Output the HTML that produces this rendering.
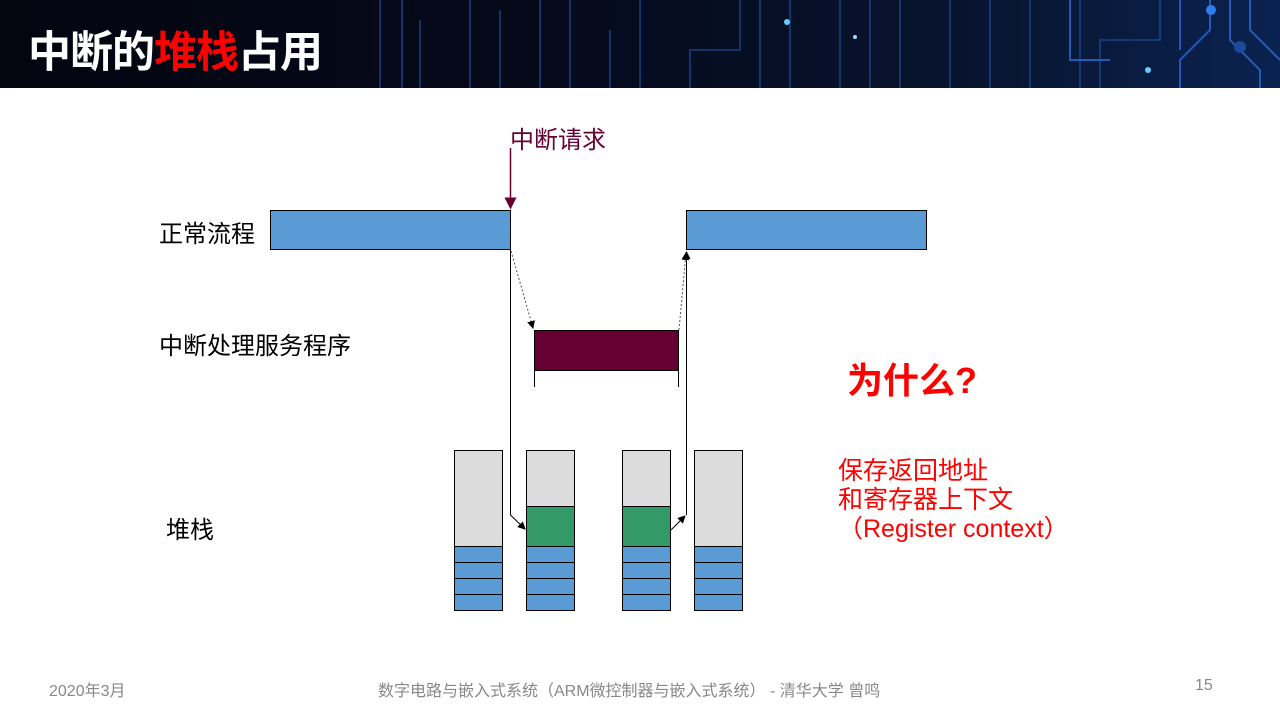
<!DOCTYPE html>
<html><head><meta charset="utf-8"><style>
body{margin:0;width:1280px;height:720px;position:relative;background:#fff;overflow:hidden;font-family:"Liberation Sans","Noto Sans CJK SC",sans-serif}
.t{position:absolute;white-space:nowrap}
</style></head><body>
<div style="position:absolute;left:0;top:0;width:1280px;height:88px;background:linear-gradient(90deg,#03050f 0%,#050a1c 45%,#08142e 75%,#0a2250 100%)"></div>
<svg style="position:absolute;left:0;top:0" width="1280" height="88">
<g stroke="#1d4f9a" stroke-width="1.5" fill="none" opacity="0.8">
<path d="M380 88V0M402 88V0M420 88V20M470 88V0M500 88V10M540 88V0M570 88V0M610 88V30M640 88V0M690 88V50H740V0M760 88V0M790 88V0M840 88V0M870 88V0M900 88V0M950 88V0M990 88V0M1030 88V0M1080 88V0M1100 88V40H1160V0"/>
<path d="M1070 0V60H1110M1180 88V60L1210 30V0M1180 0V50M1230 0V40L1260 70V88M1250 0V30L1280 60" stroke="#2a6ad8" stroke-width="2"/>
</g>
<circle cx="1211" cy="10" r="5" fill="#2f7cf0"/><circle cx="1240" cy="47" r="6" fill="#1b4a9a"/>
<circle cx="787" cy="22" r="3" fill="#6cf"/><circle cx="855" cy="37" r="2" fill="#9df"/><circle cx="1148" cy="70" r="3" fill="#6cf"/>
</svg>
<div class="t" style="left:28px;top:18px;font-size:43px;font-weight:bold;color:#fff;letter-spacing:-1px">中断的<span style="color:#f00">堆栈</span>占用</div>

<div class="t" style="left:510px;top:120px;font-size:24px;color:#660033">中断请求</div>
<div class="t" style="left:159px;top:214px;font-size:24px">正常流程</div>
<div class="t" style="left:159px;top:326px;font-size:24px">中断处理服务程序</div>
<div class="t" style="left:166px;top:510px;font-size:24px">堆栈</div>
<div class="t" style="left:847px;top:352px;font-size:36px;font-weight:bold;color:#f00">为什么?</div>
<div class="t" style="left:838px;top:457px;font-size:25px;line-height:29px;color:#f00">保存返回地址<br>和寄存器上下文<br>（Register context）</div>

<svg style="position:absolute;left:0;top:0" width="1280" height="720">
<defs><marker id="a" markerWidth="8" markerHeight="8" refX="7" refY="4" orient="auto"><path d="M0,0L8,4L0,8z" fill="#000"/></marker>
<marker id="p" markerWidth="8" markerHeight="8" refX="7" refY="4" orient="auto"><path d="M0,0L8,4L0,8z" fill="#660033"/></marker></defs>
<rect x="270.5" y="210.5" width="240" height="39" fill="#5b9bd5" stroke="#000"/>
<rect x="686.5" y="210.5" width="240" height="39" fill="#5b9bd5" stroke="#000"/>
<rect x="534.5" y="330.5" width="144" height="40" fill="#660033" stroke="#000"/>
<path d="M534.5 370V387M678.5 370V387" stroke="#000"/>
<path d="M510.5 148V208" stroke="#660033" stroke-width="1.5" marker-end="url(#p)"/>
<path d="M511 251L533 328" stroke="#555" stroke-dasharray="2,2" marker-end="url(#a)"/>
<path d="M679 330L686 253" stroke="#555" stroke-dasharray="2,2" marker-end="url(#a)"/>
<path d="M510.5 250V515L525 529" stroke="#000" fill="none" marker-end="url(#a)"/>
<path d="M671 530L685 516" stroke="#000" marker-end="url(#a)"/>
<path d="M686.5 515V252" stroke="#000" marker-end="url(#a)"/>
<g stroke="#000" stroke-width="1">
<rect x="454.5" y="450.5" width="48" height="96" fill="#dcdcdc"/>
<rect x="526.5" y="450.5" width="48" height="56" fill="#dcdcdc"/><rect x="526.5" y="506.5" width="48" height="40" fill="#339966"/>
<rect x="622.5" y="450.5" width="48" height="56" fill="#dcdcdc"/><rect x="622.5" y="506.5" width="48" height="40" fill="#339966"/>
<rect x="694.5" y="450.5" width="48" height="96" fill="#dcdcdc"/>
<g fill="#5b9bd5">
<rect x="454.5" y="546.5" width="48" height="16"/><rect x="454.5" y="562.5" width="48" height="16"/><rect x="454.5" y="578.5" width="48" height="16"/><rect x="454.5" y="594.5" width="48" height="16"/>
<rect x="526.5" y="546.5" width="48" height="16"/><rect x="526.5" y="562.5" width="48" height="16"/><rect x="526.5" y="578.5" width="48" height="16"/><rect x="526.5" y="594.5" width="48" height="16"/>
<rect x="622.5" y="546.5" width="48" height="16"/><rect x="622.5" y="562.5" width="48" height="16"/><rect x="622.5" y="578.5" width="48" height="16"/><rect x="622.5" y="594.5" width="48" height="16"/>
<rect x="694.5" y="546.5" width="48" height="16"/><rect x="694.5" y="562.5" width="48" height="16"/><rect x="694.5" y="578.5" width="48" height="16"/><rect x="694.5" y="594.5" width="48" height="16"/>
</g></g>
</svg>
<div class="t" style="left:49px;top:677px;font-size:16px;color:#888">2020年3月</div>
<div class="t" style="left:378px;top:677px;font-size:16px;color:#888">数字电路与嵌入式系统（ARM微控制器与嵌入式系统） - 清华大学 曾鸣</div>
<div class="t" style="left:1195px;top:677px;font-size:16px;color:#888">15</div>
</body></html>
